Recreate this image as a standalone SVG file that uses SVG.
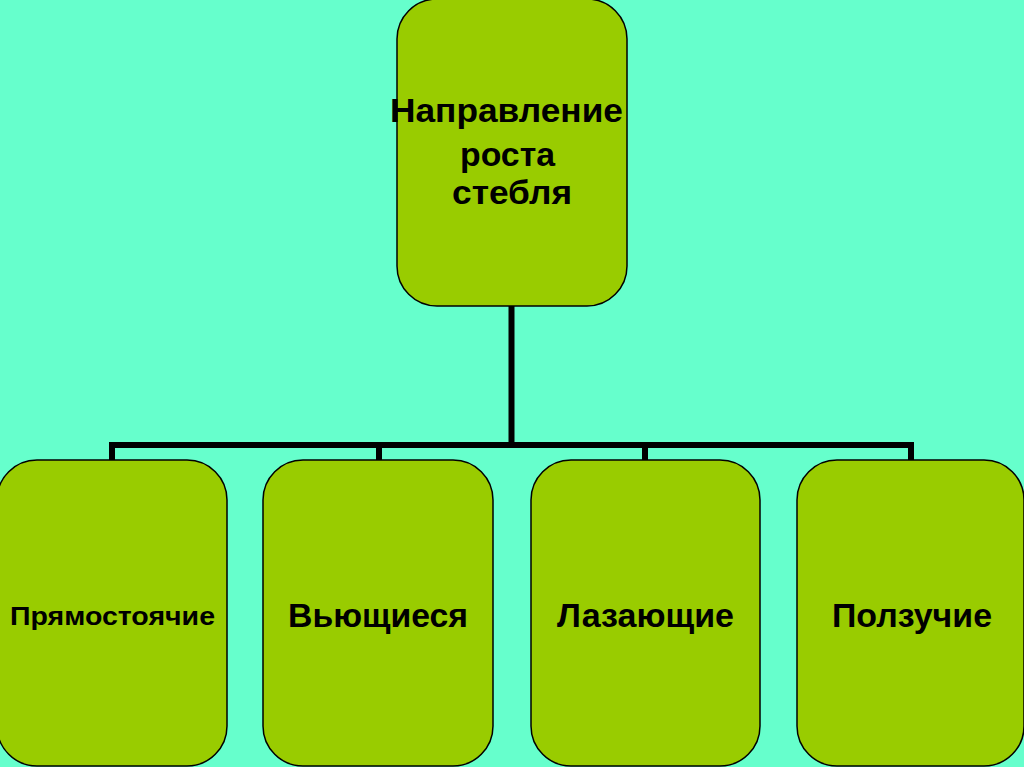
<svg xmlns="http://www.w3.org/2000/svg" width="1024" height="767" viewBox="0 0 1024 767">
<style>
.bg{fill:#66FFCC}
.box{fill:#99CC00;stroke:#000;stroke-width:1.5}
.lbl{font-family:"Liberation Sans",Arial,sans-serif;font-weight:bold;fill:#000;text-anchor:middle}
.con{fill:none;stroke:#000;stroke-width:6;stroke-linejoin:miter;stroke-linecap:butt}
</style>
<rect class="bg" x="0" y="0" width="1024" height="767"/>
<g id="connectors">
<path class="con" d="M511.5 306 V445"/>
<path class="con" d="M112 460 V445 H911 V460"/>
<path class="con" d="M379 445 V460"/>
<path class="con" d="M645 445 V460"/>
</g>
<g id="node-root">
<rect class="box" x="397" y="-1" width="230" height="307" rx="40"/>
<text class="lbl" font-size="33" x="506.5" y="122" textLength="233" lengthAdjust="spacingAndGlyphs">Направление</text>
<text class="lbl" font-size="33" x="507.5" y="166" textLength="95" lengthAdjust="spacingAndGlyphs">роста</text>
<text class="lbl" font-size="33" x="512" y="204" textLength="120" lengthAdjust="spacingAndGlyphs">стебля</text>
</g>
<g id="node-1">
<rect class="box" x="-3" y="460" width="230" height="306" rx="40"/>
<text class="lbl" font-size="26.5" x="112.5" y="625" textLength="205" lengthAdjust="spacingAndGlyphs">Прямостоячие</text>
</g>
<g id="node-2">
<rect class="box" x="263" y="460" width="230" height="306" rx="40"/>
<text class="lbl" font-size="34" x="378" y="627" textLength="180" lengthAdjust="spacingAndGlyphs">Вьющиеся</text>
</g>
<g id="node-3">
<rect class="box" x="531" y="460" width="229" height="306" rx="40"/>
<text class="lbl" font-size="34" x="645.5" y="627" textLength="177" lengthAdjust="spacingAndGlyphs">Лазающие</text>
</g>
<g id="node-4">
<rect class="box" x="797" y="460" width="227" height="306" rx="40"/>
<text class="lbl" font-size="34" x="912" y="627" textLength="160" lengthAdjust="spacingAndGlyphs">Ползучие</text>
</g>
</svg>
